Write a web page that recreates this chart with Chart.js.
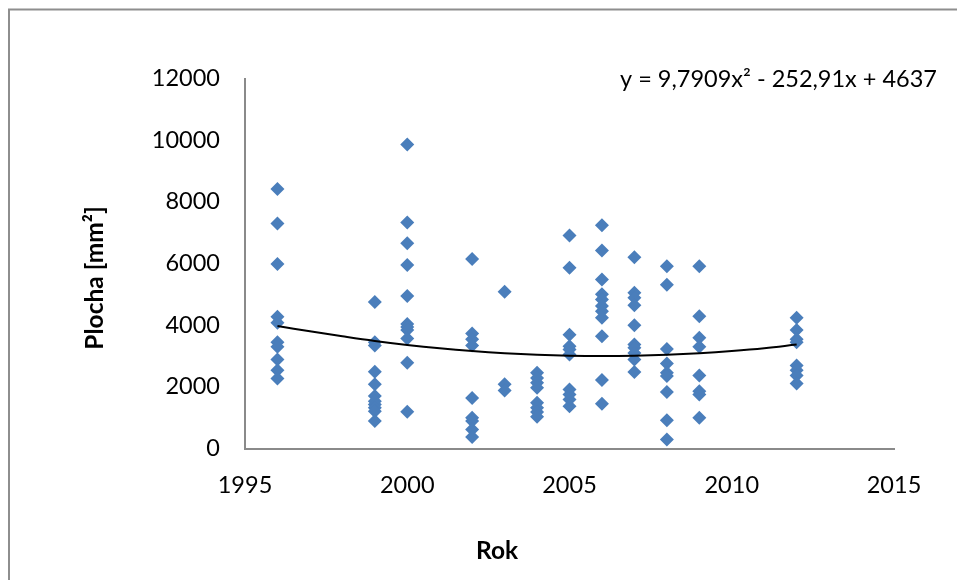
<!DOCTYPE html>
<html><head><meta charset="utf-8">
<script src="https://cdn.jsdelivr.net/npm/chart.js@4/dist/chart.umd.min.js"></script>
<style>html,body{margin:0;padding:0;background:#fff;}#wrap{width:957px;height:580px;position:relative;}</style>
</head><body><div id="wrap"><canvas id="c" width="957" height="580"></canvas></div>
<script>
const years = [1996, 1999, 2000, 2002, 2003, 2004, 2005, 2006, 2007, 2008, 2009, 2012];
const values = [
  [8420, 7300, 5980, 4270, 4080, 3450, 3300, 2890, 2540, 2270],
  [4750, 3450, 3340, 2490, 2080, 1700, 1530, 1430, 1320, 1210, 890],
  [9860, 7330, 6660, 5950, 4950, 4040, 3940, 3840, 3570, 2780, 1190],
  [6150, 3730, 3540, 3340, 1640, 1000, 890, 620, 370],
  [5080, 2080, 1880],
  [2460, 2290, 2130, 1970, 1480, 1320, 1180, 1030],
  [6910, 5860, 3690, 3320, 3210, 3050, 1910, 1750, 1590, 1370],
  [7240, 6420, 5480, 5000, 4830, 4620, 4450, 4240, 3640, 2220, 1450],
  [6200, 5050, 4890, 4650, 4000, 3370, 3270, 3100, 2890, 2480],
  [5910, 5310, 3230, 2760, 2460, 2350, 1830, 920, 290],
  [5910, 4290, 3590, 3300, 2370, 1860, 1750, 1000],
  [4240, 3840, 3540, 3450, 2690, 2540, 2370, 2110]
];
const trendYears = [1996,1997,1998,1999,2000,2001,2002,2003,2004,2005,2006,2007,2008,2009,2010,2011,2012];
const trendValues = [3970,3800,3640,3490,3360,3250,3160,3090,3040,3010,3000,3010,3040,3090,3160,3250,3370];
const xTicks = [1995, 2000, 2005, 2010, 2015];
const yTicks = [0, 2000, 4000, 6000, 8000, 10000, 12000];
const xTitle = 'Rok';
const yTitle = 'Plocha [mm²]';
const equation = 'y = 9,7909x² - 252,91x + 4637';

const points = [];
years.forEach((yr, i) => values[i].forEach(v => points.push({x: yr, y: v})));
const trend = trendYears.map((yr, i) => ({x: yr, y: trendValues[i]}));

const FONT = 'Lato, "Open Sans", sans-serif';

const deco = {
  id: 'deco',
  beforeDraw(chart) {
    const ctx = chart.ctx;
    ctx.save();
    ctx.strokeStyle = '#8e8e8e';
    ctx.lineWidth = 2;
    ctx.beginPath();
    ctx.moveTo(9, 600);
    ctx.lineTo(9, 9.5);
    ctx.lineTo(960, 9.5);
    ctx.stroke();
    ctx.restore();
  },
  afterDraw(chart) {
    const ctx = chart.ctx;
    ctx.save();
    ctx.fillStyle = '#000';
    ctx.textAlign = 'center';
    ctx.textBaseline = 'middle';
    ctx.font = 'bold 24.5px ' + FONT;
    ctx.fillText(xTitle, 497, 551);
    ctx.translate(95, 278);
    ctx.rotate(-Math.PI / 2);
    ctx.fillText(yTitle, 0, 0);
    ctx.restore();
    ctx.save();
    ctx.fillStyle = '#000';
    ctx.font = '23.5px ' + FONT;
    ctx.textAlign = 'right';
    ctx.textBaseline = 'middle';
    ctx.fillText(equation, 937, 79);
    ctx.restore();
  }
};

new Chart(document.getElementById('c'), {
  type: 'scatter',
  data: {
    datasets: [
      {
        label: 'trend',
        data: trend,
        showLine: true,
        borderColor: '#000',
        borderWidth: 2,
        pointRadius: 0,
        tension: 0.4,
        order: 0
      },
      {
        label: 'Plocha',
        data: points,
        pointStyle: 'rectRot',
        pointRadius: 7,
        backgroundColor: '#4A7EBB',
        borderColor: '#4A7EBB',
        borderWidth: 0,
        order: 1
      }
    ]
  },
  plugins: [deco],
  options: {
    responsive: false,
    animation: false,
    events: [],
    layout: { padding: { top: 78.5, right: 63, left: 9, bottom: 0 } },
    plugins: { legend: { display: false }, tooltip: { enabled: false } },
    scales: {
      x: {
        type: 'linear',
        min: 1995, max: 2015,
        afterBuildTicks(s) { s.ticks = xTicks.map(v => ({value: v})); },
        afterFit(s) { s.height = 580 - 448.5; },
        grid: { display: false, drawTicks: false },
        border: { display: true, color: '#8a8a8a', width: 2 },
        ticks: { color: '#000', font: { family: FONT, size: 23.5 }, padding: 23, maxRotation: 0, callback: v => String(v) }
      },
      y: {
        type: 'linear',
        min: 0, max: 12000,
        afterBuildTicks(s) { s.ticks = yTicks.map(v => ({value: v})); },
        afterFit(s) { s.width = 245 - 9; },
        grid: { display: false, drawTicks: false },
        border: { display: true, color: '#8a8a8a', width: 2 },
        ticks: { color: '#000', font: { family: FONT, size: 23.5 }, padding: 25, callback: v => String(v) }
      }
    }
  }
});
</script></body></html>
